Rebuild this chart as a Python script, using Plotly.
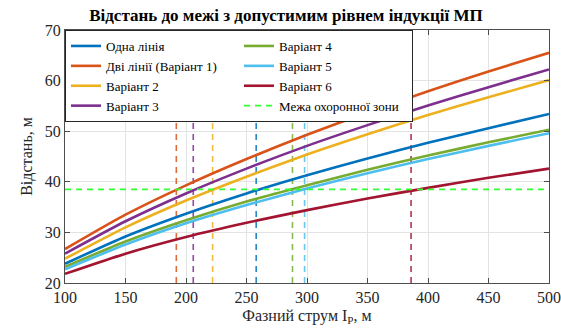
import plotly.graph_objects as go

# Phase current, A
current = [100, 150, 200, 250, 300, 350, 400, 450, 500]

# Distance to the boundary with permissible induction level, m
one_line = [23.8, 29.2, 33.7, 37.7, 41.3, 44.6, 47.7, 50.6, 53.4]
two_lines_v1 = [26.7, 33.5, 39.3, 44.5, 49.3, 53.7, 57.9, 61.8, 65.5]
variant2 = [24.8, 31.0, 36.3, 41.0, 45.4, 49.4, 53.2, 56.7, 60.1]
variant3 = [25.8, 32.2, 37.7, 42.6, 47.1, 51.2, 55.1, 58.7, 62.2]
variant4 = [23.2, 28.2, 32.4, 36.1, 39.3, 42.4, 45.2, 47.8, 50.3]
variant5 = [22.7, 27.6, 31.8, 35.4, 38.7, 41.7, 44.5, 47.1, 49.6]
variant6 = [21.8, 25.8, 29.1, 31.9, 34.4, 36.7, 38.8, 40.8, 42.6]

names = ["Одна лінія", "Дві лінії (Варіант 1)", "Варіант 2", "Варіант 3",
         "Варіант 4", "Варіант 5", "Варіант 6"]
series = [one_line, two_lines_v1, variant2, variant3, variant4, variant5, variant6]
colors = ["#0072BD", "#D95319", "#EDB120", "#7E2F8E", "#77AC30", "#4DBEEE", "#A2142F"]

# Current at which each curve reaches the protection-zone boundary
crossings = [258, 192, 222, 206, 288, 298, 386]
zone_limit = 38.5
zone_name = "Межа охоронної зони"

x_range = [100, 500]
y_range = [20, 70]

# legend is laid out row-wise in two columns
ranks = [1, 3, 5, 7, 2, 4, 6]

fig = go.Figure()

for xc, col in zip(crossings, colors):
    fig.add_trace(go.Scatter(
        x=[xc, xc], y=y_range, mode="lines", showlegend=False, hoverinfo="skip",
        line=dict(color=col, width=1.6, dash="6px,5px"), opacity=0.85))

for name, ys, col, rk in zip(names, series, colors, ranks):
    fig.add_trace(go.Scatter(
        x=current, y=ys, mode="lines", name=name, legendrank=rk,
        line=dict(color=col, width=2.6, shape="spline", smoothing=0.6)))

fig.add_trace(go.Scatter(
    x=x_range, y=[zone_limit, zone_limit], mode="lines", name=zone_name, legendrank=8,
    line=dict(color="#33FF33", width=1.6, dash="6px,5px")))

font_family = '"Liberation Serif", "Times New Roman", "DejaVu Serif", serif'
axis_common = dict(
    showgrid=True, gridcolor="#E3E3E3", gridwidth=1,
    showline=True, linecolor="#4D4D4D", linewidth=1, mirror="ticks",
    ticks="inside", ticklen=5, tickcolor="#4D4D4D", automargin=False,
    zeroline=False, tickfont=dict(family=font_family, size=16, color="#262626"),
)

fig.update_layout(
    width=561, height=335,
    margin=dict(l=64.5, r=12, t=30, b=51.5),
    paper_bgcolor="white", plot_bgcolor="white",
    font=dict(family=font_family, color="#262626"),
    title=dict(text="<b>Відстань до межі з допустимим рівнем індукції МП</b>",
               font=dict(family=font_family, size=17, color="#000000"),
               xref="container", x=286 / 561, xanchor="center",
               yref="container", y=1 - 15 / 335, yanchor="middle"),
    xaxis=dict(range=x_range, tickvals=list(range(100, 501, 50)),
               title=dict(text="Фазний струм I<sub>P</sub>, м",
                          font=dict(family=font_family, size=16), standoff=4),
               **axis_common),
    yaxis=dict(range=y_range, tickvals=list(range(20, 71, 10)),
               title=dict(text="Відстань, м",
                          font=dict(family=font_family, size=16), standoff=8),
               **axis_common),
    legend=dict(
        orientation="h", x=0, y=1, xanchor="left", yanchor="top",
        xref="paper", yref="paper",
        entrywidth=128, entrywidthmode="pixels",
        bgcolor="white", bordercolor="#262626", borderwidth=1,
        font=dict(family=font_family, size=13, color="#000000"),
        tracegroupgap=0, itemwidth=30,
    ),
)

fig.write_html("out.html")
